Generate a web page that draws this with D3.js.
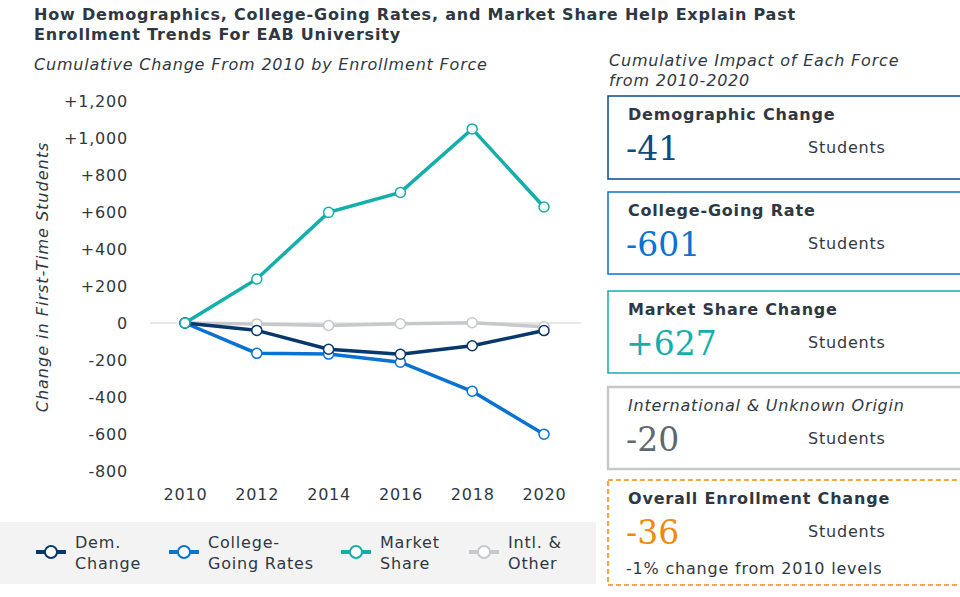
<!DOCTYPE html>
<html lang="en">
<head>
<meta charset="UTF-8">
<script src="https://d3js.org/d3.v7.min.js"></script>
<title>Enrollment forces</title>
<style>
  body { margin: 0; background: #fff; }
  svg text { font-family: "DejaVu Sans", Verdana, sans-serif; fill: #2f3842; letter-spacing: 0.8px; }
  svg text.big { letter-spacing: 0; }
</style>
</head>
<body>
<div id="chart"></div>
<script>
// data
var years = [2010, 2012, 2014, 2016, 2018, 2020];
var demChange = [0, -40, -142, -169, -123, -41];
var collegeGoing = [0, -164, -168, -212, -369, -601];
var marketShare = [0, 238, 598, 706, 1049, 627];
var intlOther = [0, -5, -13, -4, 2, -20];
var yTicks = [-800, -600, -400, -200, 0, 200, 400, 600, 800, 1000, 1200];

var seriesNames = ["Dem. Change", "College-Going Rates", "Market Share", "Intl. & Other"];
var legendLines = [["Dem.", "Change"], ["College-", "Going Rates"], ["Market", "Share"], ["Intl. &", "Other"]];
var seriesColors = ["#08386b", "#0a72d1", "#14aeab", "#c6c8cb"];

var boxTitles = ["Demographic Change", "College-Going Rate", "Market Share Change", "International & Unknown Origin", "Overall Enrollment Change"];
var boxValues = [-41, -601, 627, -20, -36];
var boxColors = ["#0a4a86", "#0a72d1", "#14aeab", "#5f6770", "#f08a0e"];
var boxBorders = ["#0a4a86", "#0a72d1", "#14aeab", "#c6c8cb", "#f08a0e"];

var series = [demChange, collegeGoing, marketShare, intlOther];

var W = 960, H = 597;
var svg = d3.select("#chart").append("svg")
  .attr("width", W).attr("height", H);

// titles
svg.append("text").attr("x", 34).attr("y", 20)
  .style("font-weight", "bold").style("font-size", "16px")
  .text("How Demographics, College-Going Rates, and Market Share Help Explain Past");
svg.append("text").attr("x", 34).attr("y", 40)
  .style("font-weight", "bold").style("font-size", "16px")
  .text("Enrollment Trends For EAB University");
svg.append("text").attr("x", 34).attr("y", 70)
  .style("font-style", "italic").style("font-size", "16px")
  .text("Cumulative Change From 2010 by Enrollment Force");

// scales
var x = d3.scalePoint().domain(years).range([185, 544]);
var y = d3.scaleLinear().domain([-800, 1200]).range([471, 101]);

// y axis (labels only)
var fmt = d3.format(",");
svg.append("g").attr("transform", "translate(131,0)")
  .call(d3.axisLeft(y).tickValues(yTicks).tickSize(0)
    .tickFormat(function(d) { return d > 0 ? "+" + fmt(d) : String(d); }))
  .call(function(g) { g.select(".domain").remove(); })
  .selectAll("text")
    .attr("dy", "0.35em")
    .style("font-size", "16px")
    .style("fill", "#2f3842");

// x axis (labels only)
svg.append("g").attr("transform", "translate(0,486)")
  .call(d3.axisBottom(x).tickSize(0))
  .call(function(g) { g.select(".domain").remove(); })
  .selectAll("text")
    .attr("dy", "0.71em")
    .style("font-size", "16px")
    .style("fill", "#2f3842");

// y axis title
svg.append("text")
  .attr("transform", "translate(48," + 277 + ") rotate(-90)")
  .attr("text-anchor", "middle")
  .style("font-style", "italic").style("font-size", "16px")
  .style("letter-spacing", "1px")
  .text("Change in First-Time Students");

// zero line
svg.append("line")
  .attr("x1", 150).attr("x2", 581)
  .attr("y1", y(0)).attr("y2", y(0))
  .attr("stroke", "#d0d0d0").attr("stroke-width", 1);

var line = d3.line()
  .x(function(d, i) { return x(years[i]); })
  .y(function(d) { return y(d); });

// draw in back-to-front order: intl, college, dem, market
var order = [3, 1, 0, 2];
order.forEach(function(k) {
  var g = svg.append("g");
  g.append("path")
    .datum(series[k])
    .attr("fill", "none")
    .attr("stroke", seriesColors[k])
    .attr("stroke-width", 3.5)
    .attr("d", line);
  g.selectAll("circle")
    .data(series[k])
    .enter().append("circle")
    .attr("cx", function(d, i) { return x(years[i]); })
    .attr("cy", function(d) { return y(d); })
    .attr("r", 5)
    .attr("fill", "#fff")
    .attr("stroke", seriesColors[k])
    .attr("stroke-width", 1.5);
});

// legend
svg.append("rect").attr("x", 0).attr("y", 522).attr("width", 596).attr("height", 62)
  .attr("fill", "#f3f3f3");
var legendX = [36, 169, 341, 469];
seriesNames.forEach(function(name, k) {
  var lg = svg.append("g").attr("transform", "translate(" + legendX[k] + ",552)");
  lg.append("line").attr("x1", 0).attr("x2", 30).attr("y1", 0).attr("y2", 0)
    .attr("stroke", seriesColors[k]).attr("stroke-width", 4);
  lg.append("circle").attr("cx", 15).attr("cy", 0).attr("r", 6)
    .attr("fill", "#fff").attr("stroke", seriesColors[k]).attr("stroke-width", 2);
  lg.append("text").attr("x", 39).attr("y", -4)
    .style("font-size", "16px").text(legendLines[k][0]);
  lg.append("text").attr("x", 39).attr("y", 17)
    .style("font-size", "16px").text(legendLines[k][1]);
});

// right panel
svg.append("text").attr("x", 609).attr("y", 66)
  .style("font-style", "italic").style("font-size", "16px")
  .text("Cumulative Impact of Each Force");
svg.append("text").attr("x", 609).attr("y", 86)
  .style("font-style", "italic").style("font-size", "16px")
  .text("from 2010-2020");

var boxTop = [96, 192, 291, 387, 480];
var boxH = [83, 82, 82, 82, 105];
boxTitles.forEach(function(t, k) {
  var b = svg.append("g").attr("transform", "translate(608," + boxTop[k] + ")");
  b.append("rect").attr("x", 0).attr("y", 0).attr("width", 370).attr("height", boxH[k])
    .attr("fill", "#fff")
    .attr("stroke", boxBorders[k])
    .attr("stroke-width", k === 3 ? 2.5 : 1.5)
    .attr("stroke-dasharray", k === 4 ? "5,3" : null);
  b.append("text").attr("x", 20).attr("y", 24)
    .style("font-size", "16px")
    .style("font-weight", k === 3 ? "normal" : "bold")
    .style("font-style", k === 3 ? "italic" : "normal")
    .text(t);
  var v = boxValues[k];
  b.append("text").attr("class", "big").attr("x", 18).attr("y", 64)
    .style("font-family", "'DejaVu Serif', serif")
    .style("font-size", "33px")
    .style("fill", boxColors[k])
    .text(v > 0 ? "+" + v : "-" + Math.abs(v));
  b.append("text").attr("x", 200).attr("y", 57)
    .style("font-size", "16px").text("Students");
});
svg.append("text").attr("x", 626).attr("y", 574)
  .style("font-size", "16px").text("-1% change from 2010 levels");
</script>
</body>
</html>
